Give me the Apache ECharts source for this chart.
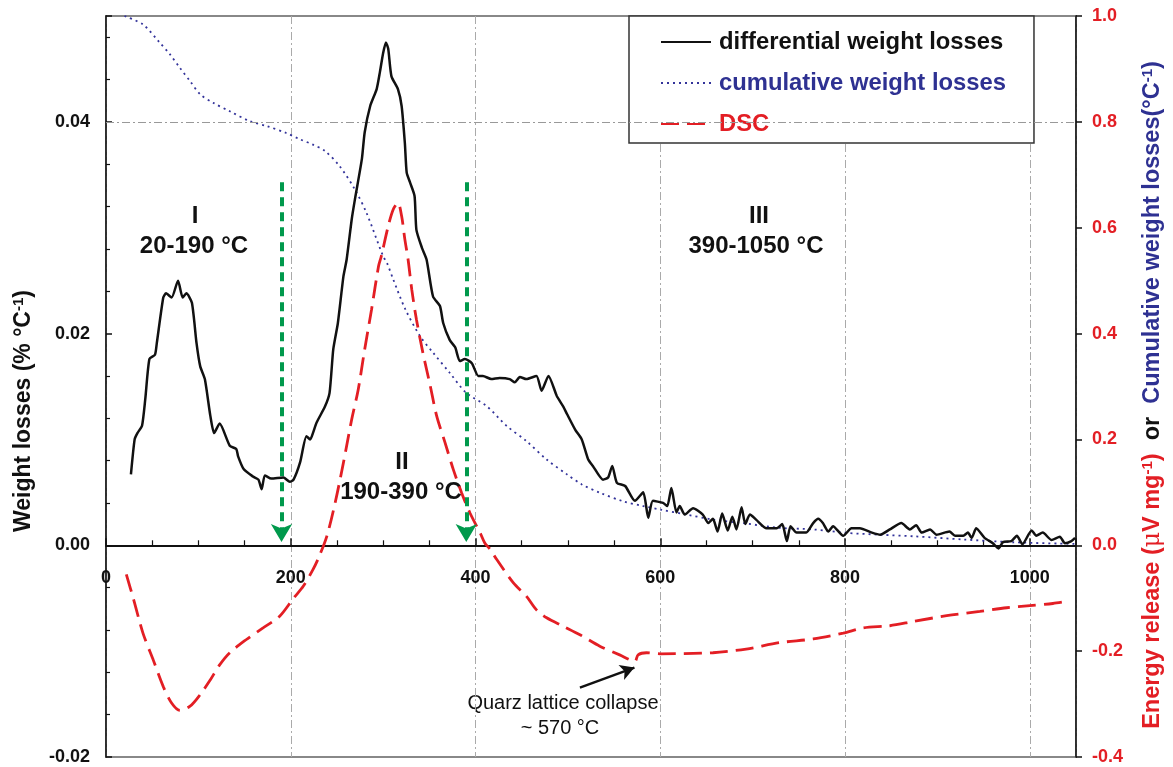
<!DOCTYPE html>
<html><head><meta charset="utf-8">
<script src="https://cdn.jsdelivr.net/npm/echarts@6/dist/echarts.min.js"></script>
<style>html,body{margin:0;padding:0;background:#fff}#c{width:1173px;height:767px}</style>
</head><body><div id="c"></div>
<script>
// differential weight losses (% / °C), left axis
const diffT = [27,31,34,39,42.5,47,53,55,62,65,71,78,83,87,93,98,102,107,113,117,123,134,141,143,149,159,165,168.5,172,179,192,199,203,210,217,221,224,228,237,242,246,251,257,260.5,266,269.5,277,280,286,293,296.5,300,303,305.5,309,316,320,323.5,325.5,329,334,336,342,347,354,361.5,365,372,378,383,388.5,396,403,408,417,426,437,442.5,448,455,466,471.5,479,488,495,499,508,515,522,527,538,543.5,548,553,562,572.5,581.5,587,592,603,607.5,612,617.5,621,626.5,635.5,646,652,657,662,667,673,678,682.5,688,692,697,704,715,726,732,737,741,747.5,758,765.5,771,776,782,787,798,807,816,829,838,848.5,861,870,877,883,892,899,913,919,928,933,937,942,951,960,966,971,980,986,992,1002,1007,1014,1023.5,1032.5,1038,1045,1049];
const diffV = [0.0067,0.0100,0.0106,0.0113,0.0138,0.0176,0.0180,0.0191,0.0234,0.0238,0.0234,0.0250,0.0234,0.0238,0.0229,0.0191,0.0169,0.0157,0.0122,0.0106,0.0115,0.0094,0.0091,0.0084,0.0072,0.0065,0.0062,0.0053,0.0066,0.0063,0.0064,0.0060,0.0062,0.0078,0.0103,0.0100,0.0106,0.0116,0.0131,0.0144,0.0185,0.0210,0.0254,0.0270,0.0308,0.0327,0.0365,0.0390,0.0415,0.0431,0.0447,0.0465,0.0475,0.0469,0.0443,0.0431,0.0415,0.0380,0.0352,0.0343,0.0330,0.0298,0.0281,0.0270,0.0235,0.0226,0.0210,0.0194,0.0187,0.0174,0.0176,0.0172,0.0160,0.0160,0.0157,0.0158,0.0157,0.0154,0.0159,0.0157,0.0160,0.0146,0.0160,0.0141,0.0131,0.0124,0.0109,0.0100,0.0081,0.0075,0.0062,0.0064,0.0075,0.0059,0.0056,0.0042,0.0050,0.0026,0.0042,0.0040,0.0037,0.0054,0.0031,0.0037,0.0029,0.0035,0.0029,0.0021,0.0025,0.0013,0.0030,0.0014,0.0027,0.0015,0.0036,0.0020,0.0029,0.0024,0.0016,0.0016,0.0020,0.0004,0.0018,0.0012,0.0012,0.0021,0.0025,0.0021,0.0013,0.0018,0.0009,0.0016,0.0016,0.0012,0.0010,0.0015,0.0021,0.0015,0.0019,0.0012,0.0015,0.0010,0.0013,0.0009,0.0009,0.0012,0.0007,0.0016,0.0007,0.0002,-0.0003,0.0003,0.0004,0.0009,0.0001,0.0014,0.0009,0.0012,0.0005,0.0008,0.0002,0.0004,0.0007];

// cumulative weight losses, right axis
const cumT = [20,40,58,69,80,91,102,116,134,156,174,195,210,224,237,253,269.5,282,300,304,311,324,340,354,372,390,412,434,455,477,499,515,535,560,581.5,600,628.5,657,693,729,765.5,802,838,874,928,982,1049];
const cumV = [1.0,0.984,0.950,0.928,0.902,0.877,0.852,0.836,0.820,0.801,0.792,0.779,0.767,0.757,0.745,0.716,0.672,0.628,0.546,0.534,0.502,0.446,0.395,0.364,0.326,0.288,0.263,0.225,0.197,0.162,0.134,0.115,0.099,0.083,0.074,0.0675,0.058,0.0486,0.041,0.033,0.030,0.0234,0.020,0.017,0.011,0.0057,0.0026];

// DSC energy release, right axis
const dscT = [22,30,40,51,62,71,80,91,102,113,123,134,152,170,188,203,213.5,224,230,239,248,257,266,273,280,287.5,295,298,305.5,311,316,320,323.5,327,331,336,343,351,358,367,376,385,394,405,410,416,423,441,455,466,477,495,513,535,556,572.5,576,585,600,657,693,729,765.5,798,820,848.5,874,910,946,975,1000,1025,1040];
const dscV = [-0.055,-0.103,-0.166,-0.216,-0.267,-0.298,-0.312,-0.304,-0.282,-0.254,-0.226,-0.203,-0.178,-0.156,-0.134,-0.100,-0.0775,-0.046,-0.024,0.017,0.080,0.156,0.238,0.294,0.370,0.446,0.527,0.546,0.603,0.635,0.647,0.622,0.578,0.540,0.483,0.427,0.364,0.301,0.244,0.194,0.143,0.099,0.061,0.0234,0.0045,-0.008,-0.027,-0.071,-0.096,-0.122,-0.137,-0.153,-0.169,-0.191,-0.207,-0.219,-0.207,-0.203,-0.205,-0.203,-0.196,-0.184,-0.177,-0.166,-0.156,-0.152,-0.144,-0.133,-0.125,-0.118,-0.114,-0.110,-0.106];

// stage boundaries (°C) marked with green arrows
const boundaryT = [190, 390];
const arrowTop = 0.0343;
// quartz arrow (from label to the DSC kink)
const quartzArrow = [[513, -0.269], [572, -0.231]];

const FONT = '"Liberation Sans", Arial, Helvetica, sans-serif';
const RED = '#e31e24', BLUE = '#2e3192', BLACK = '#111';
const pairs = (t, v) => t.map((x, i) => [x, v[i]]);

// layout
const W = 1173, H = 767, GT = 16, GB = 10, GL = 106, GR = 97;
const yMin = -0.02, yMax = 0.05;
const plotH = H - GT - GB;
const zeroFromBottom = plotH * (0 - yMin) / (yMax - yMin);

const chart = echarts.init(document.getElementById('c'));
chart.setOption({
  animation: false,
  textStyle: { fontFamily: FONT },
  grid: { left: GL, right: GR, top: GT, bottom: GB, show: true, borderColor: '#888', borderWidth: 2, containLabel: false, outerBoundsMode: 'none' },
  legend: {
    left: 629, top: 16, orient: 'vertical',
    backgroundColor: '#fff', borderColor: '#333', borderWidth: 1.5,
    padding: [14, 28, 7, 31], itemWidth: 50, itemHeight: 20, itemGap: 17,
    itemStyle: { color: 'transparent', borderWidth: 0, opacity: 0 },
    textStyle: { fontSize: 23.8, fontWeight: 'bold', fontFamily: FONT, padding: [0, 0, 0, 3] },
    data: [
      { name: 'differential weight losses', textStyle: { color: BLACK } },
      { name: 'cumulative weight losses', textStyle: { color: BLUE } },
      { name: 'DSC', textStyle: { color: RED } }
    ]
  },
  xAxis: {
    type: 'value', min: 0, max: 1050, interval: 200, position: 'bottom', offset: -zeroFromBottom,
    axisLine: { onZero: false, lineStyle: { color: BLACK, width: 2 } },
    axisTick: { inside: true, length: 7, lineStyle: { color: BLACK, width: 1.5 } },
    minorTick: { show: true, splitNumber: 4, length: 5, lineStyle: { color: BLACK, width: 1.2 } },
    axisLabel: { margin: 24, fontSize: 18, fontWeight: 'bold', color: BLACK, fontFamily: FONT, showMaxLabel: false, formatter: v => String(v) },
    splitLine: { show: true, lineStyle: { color: '#aaa', type: [8, 3, 2, 3], width: 1 } }
  },
  yAxis: [{
    type: 'value', min: yMin, max: yMax, interval: 0.02, position: 'left',
    axisLine: { show: true, onZero: false, lineStyle: { color: BLACK, width: 1.5 } },
    axisTick: { show: true, inside: true, length: 6, lineStyle: { color: BLACK, width: 1.5 } },
    minorTick: { show: true, splitNumber: 5, length: 4, lineStyle: { color: BLACK, width: 1.2 } },
    axisLabel: { formatter: v => v.toFixed(2), margin: 16, fontSize: 18, fontWeight: 'bold', color: BLACK, fontFamily: FONT, showMaxLabel: false },
    splitLine: { show: false }
  }, {
    type: 'value', min: -0.4, max: 1.0, interval: 0.2, position: 'right',
    axisLine: { show: true, onZero: false, lineStyle: { color: BLACK, width: 1.5 } },
    axisTick: { show: true, length: 6, lineStyle: { color: BLACK, width: 1.5 } },
    axisLabel: { formatter: v => v.toFixed(1), margin: 16, fontSize: 18, fontWeight: 'bold', color: RED, fontFamily: FONT },
    splitLine: { show: false }
  }],
  series: [{
    name: 'differential weight losses', type: 'line', xAxisIndex: 0, yAxisIndex: 0,
    data: pairs(diffT, diffV), symbol: 'none', smooth: 0.2, z: 5,
    lineStyle: { color: BLACK, width: 2.5 }, itemStyle: { color: BLACK },
    markLine: {
      silent: true, symbol: ['none', 'arrow'], symbolSize: [16, 18],
      label: { show: false },
      lineStyle: { color: '#00994c', width: 4, type: [9, 6] },
      data: boundaryT.map(t => [{ coord: [t, arrowTop] }, { coord: [t, 0.0003] }])
    }
  }, {
    name: 'cumulative weight losses', type: 'line', xAxisIndex: 0, yAxisIndex: 1,
    data: pairs(cumT, cumV), symbol: 'none', smooth: 0.3, z: 4,
    lineStyle: { color: '#33339a', width: 1.8, type: [2, 4] }, itemStyle: { color: '#33339a' },
    markLine: {
      silent: true, symbol: 'none', label: { show: false },
      lineStyle: { color: '#999', width: 1, type: [8, 3, 2, 3] },
      data: [{ yAxis: 0.8 }]
    }
  }, {
    name: 'DSC', type: 'line', xAxisIndex: 0, yAxisIndex: 1,
    data: pairs(dscT, dscV), symbol: 'none', smooth: 0.3, z: 4,
    lineStyle: { color: RED, width: 2.8, type: [18, 8] }, itemStyle: { color: RED },
    markLine: {
      silent: true, symbol: ['none', 'arrow'], symbolSize: [12, 14],
      label: { show: false },
      lineStyle: { color: BLACK, width: 2.5, type: 'solid' },
      data: [[{ coord: quartzArrow[0] }, { coord: quartzArrow[1] }]]
    }
  }],
  graphic: [
    { type: 'text', x: 195, y: 216, style: { text: 'I', font: 'bold 24px ' + FONT, fill: BLACK, align: 'center', verticalAlign: 'middle' } },
    { type: 'text', x: 194, y: 246, style: { text: '20-190 °C', font: 'bold 24px ' + FONT, fill: BLACK, align: 'center', verticalAlign: 'middle' } },
    { type: 'text', x: 402, y: 462, style: { text: 'II', font: 'bold 24px ' + FONT, fill: BLACK, align: 'center', verticalAlign: 'middle' } },
    { type: 'text', x: 401, y: 492, style: { text: '190-390 °C', font: 'bold 24px ' + FONT, fill: BLACK, align: 'center', verticalAlign: 'middle' } },
    { type: 'text', x: 759, y: 216, style: { text: 'III', font: 'bold 24px ' + FONT, fill: BLACK, align: 'center', verticalAlign: 'middle' } },
    { type: 'text', x: 756, y: 246, style: { text: '390-1050 °C', font: 'bold 24px ' + FONT, fill: BLACK, align: 'center', verticalAlign: 'middle' } },
    { type: 'text', x: 563, y: 703, style: { text: 'Quarz lattice collapse', font: '20px ' + FONT, fill: BLACK, align: 'center', verticalAlign: 'middle' } },
    { type: 'text', x: 560, y: 728, style: { text: '~ 570 °C', font: '20px ' + FONT, fill: BLACK, align: 'center', verticalAlign: 'middle' } },
    {
      type: 'text', x: 24, y: 411, rotation: Math.PI / 2,
      style: {
        text: '{a|Weight losses (% °C}{s|-1}{a|)}', align: 'center', verticalAlign: 'middle',
        rich: {
          a: { font: 'bold 23px ' + FONT, fill: BLACK, color: BLACK, lineHeight: 26 },
          s: { font: 'bold 15px ' + FONT, fill: BLACK, color: BLACK, verticalAlign: 'top', lineHeight: 26 }
        }
      }
    },
    {
      type: 'text', x: 1153, y: 395, rotation: Math.PI / 2,
      style: {
        text: '{r|Energy release (}{m|μ}{r|V mg}{rs|-1}{r|)}{k|  or  }{b|Cumulative weight losses(°C}{bs|-1}{b|)}',
        align: 'center', verticalAlign: 'middle',
        rich: {
          r: { font: 'bold 23.5px ' + FONT, color: RED, fill: RED, lineHeight: 26 },
          m: { font: '23.5px "DejaVu Serif", serif', color: RED, fill: RED, lineHeight: 26 },
          rs: { font: 'bold 15px ' + FONT, color: RED, fill: RED, verticalAlign: 'top', lineHeight: 26 },
          k: { font: 'bold 23.5px ' + FONT, color: BLACK, fill: BLACK, lineHeight: 26 },
          b: { font: 'bold 23.5px ' + FONT, color: BLUE, fill: BLUE, lineHeight: 26 },
          bs: { font: 'bold 15px ' + FONT, color: BLUE, fill: BLUE, verticalAlign: 'top', lineHeight: 26 }
        }
      }
    }
  ]
});
</script>
</body></html>
